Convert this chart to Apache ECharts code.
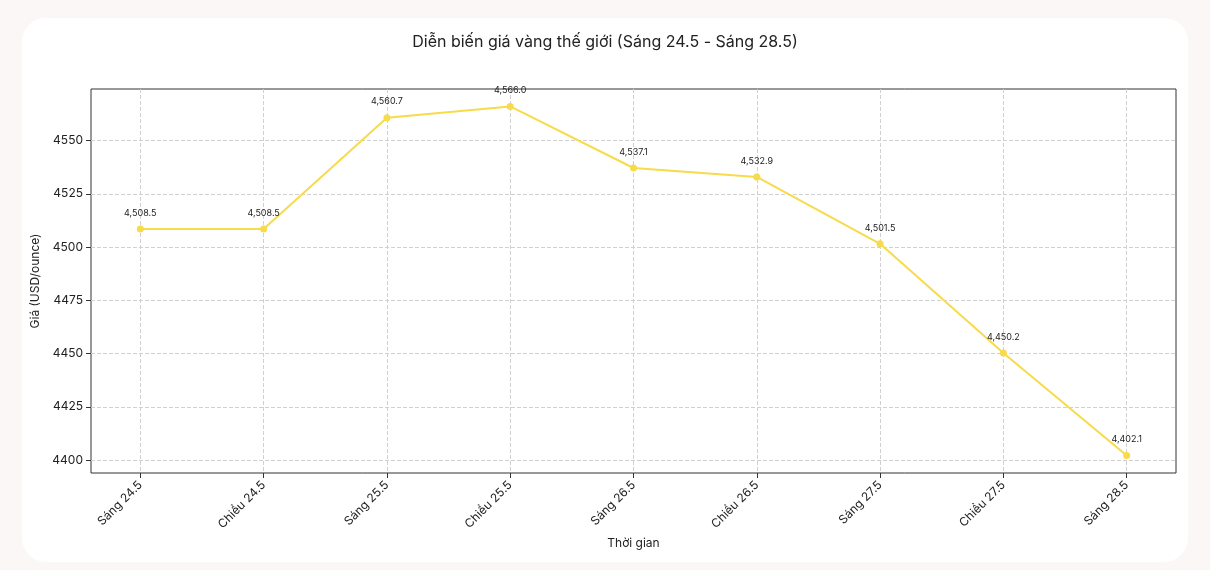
<!DOCTYPE html>
<html><head><meta charset="utf-8">
<script src="https://cdn.jsdelivr.net/npm/echarts@6/dist/echarts.min.js"></script>
<style>html,body{margin:0;padding:0;background:#fbf7f7;}#c{width:1210px;height:570px;}</style>
</head><body><div id="c"></div>
<script>
const categories = ["Sáng 24.5","Chiều 24.5","Sáng 25.5","Chiều 25.5","Sáng 26.5","Chiều 26.5","Sáng 27.5","Chiều 27.5","Sáng 28.5"];
const prices = [4508.5,4508.5,4560.7,4566.0,4537.1,4532.9,4501.5,4450.2,4402.1];
const yTicks = [4400,4425,4450,4475,4500,4525,4550];
const xTicks = categories.map((_, i) => i);
const font = "Inter, 'Noto Sans', sans-serif";
const chart = echarts.init(document.getElementById('c'));
chart.setOption({
  backgroundColor: 'transparent',
  graphic: [{type:'rect', z:-10, shape:{x:22,y:18,width:1166,height:544,r:24}, style:{fill:'#ffffff'}}],
  title: {text:'Diễn biến giá vàng thế giới (Sáng 24.5 - Sáng 28.5)', left:'center', top:29,
    textStyle:{fontFamily:font, fontSize:16, fontWeight:'normal', color:'#222'}},
  grid: {left:91, right:34, top:89, bottom:97, show:true, borderColor:'#333', borderWidth:1},
  xAxis: {type:'value', min:-0.4, max:8.4, name:'Thời gian', nameLocation:'middle', nameGap:64,
    nameTextStyle:{fontFamily:font, fontSize:12, color:'#222'},
    axisLine:{show:false, onZero:false},
    axisTick:{show:true, customValues:xTicks, length:5, lineStyle:{color:'#333'}},
    axisLabel:{customValues:xTicks, rotate:45, fontFamily:font, fontSize:12, color:'#222', margin:10,
      formatter: v => categories[Math.round(v)] ?? ''},
    splitLine:{show:true, lineStyle:{color:'#d0d0d0', type:'dashed'}}},
  yAxis: {type:'value', min:4393.9, max:4574.2, name:'Giá (USD/ounce)', nameLocation:'middle', nameGap:48,
    nameTextStyle:{fontFamily:font, fontSize:12, color:'#222'},
    axisLine:{show:false, onZero:false},
    axisTick:{show:true, customValues:yTicks, length:5, lineStyle:{color:'#333'}},
    axisLabel:{customValues:yTicks, fontFamily:font, fontSize:12, color:'#222', formatter: v => String(v)},
    splitLine:{show:true, lineStyle:{color:'#d0d0d0', type:'dashed'}}},
  series: [{type:'line', data: prices.map((p,i)=>[i,p]), color:'#f7db4a',
    lineStyle:{width:2}, symbol:'circle', symbolSize:7,
    label:{show:true, position:'top', distance:8, fontFamily:font, fontSize:9, color:'#222',
      formatter: p => p.value[1].toLocaleString('en-US',{minimumFractionDigits:1, maximumFractionDigits:1})}}]
});
</script></body></html>
